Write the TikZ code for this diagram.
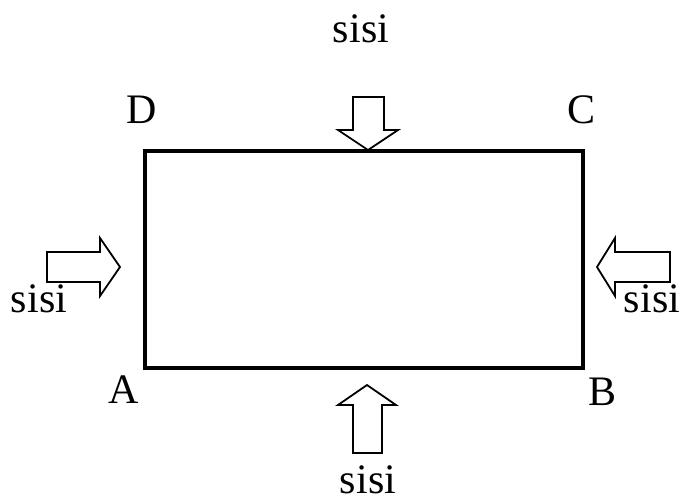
\documentclass[tikz,border=0pt]{standalone}
\usepackage{fontspec}
\setmainfont{Liberation Serif}
\begin{document}
\begin{tikzpicture}[x=1pt,y=-1pt,
  lbl/.style={anchor=base,inner sep=0pt,font=\fontsize{42}{48}\selectfont},
  bigarrow/.style={draw=black,line width=1.8pt,line join=miter,fill=white}]
\useasboundingbox (0,0) rectangle (680,501);
% rectangle
\coordinate (A) at (145,368);
\coordinate (B) at (583,368);
\coordinate (C) at (583,151);
\coordinate (D) at (145,151);
\draw[line width=3.8pt] (A) -- (B) -- (C) -- (D) -- cycle;
% corner labels
\node[lbl] (la) at (124,403) {A};
\node[lbl] (lb) at (602,405) {B};
\node[lbl] (lc) at (582,123) {C};
\node[lbl] (ld) at (142,123) {D};
% top arrow
\draw[bigarrow] (353,97) -- (384,97) -- (384,130) -- (398,130) -- (368,150) -- (338,130) -- (353,130) -- cycle;
% bottom arrow
\draw[bigarrow] (353,453) -- (382,453) -- (382,405) -- (396,405) -- (367,385) -- (338,405) -- (353,405) -- cycle;
% left arrow
\draw[bigarrow] (47,252) -- (100,252) -- (100,238) -- (120,267) -- (100,296) -- (100,282) -- (47,282) -- cycle;
% right arrow
\draw[bigarrow] (670,252) -- (615,252) -- (615,238) -- (597,267) -- (615,296) -- (615,282) -- (670,282) -- cycle;
% force labels
\node[lbl] (st) at (361,42) {sisi};
\node[lbl] (sl) at (39,312) {sisi};
\node[lbl] (sr) at (652,312) {sisi};
\node[lbl] (sb) at (368,493) {sisi};
\end{tikzpicture}
\end{document}
